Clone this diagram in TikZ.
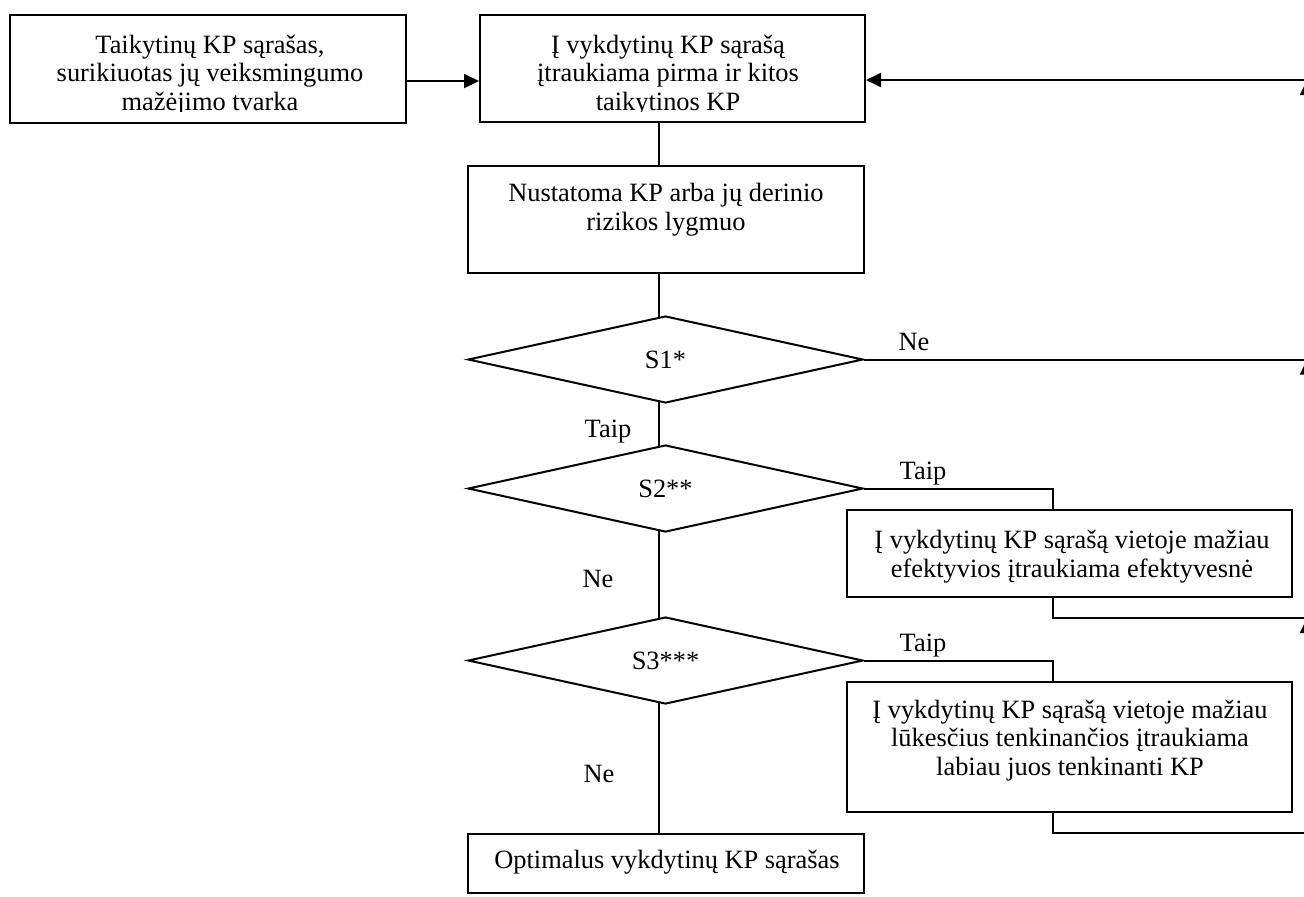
\documentclass[tikz,border=0pt]{standalone}
\usepackage{fontspec}
\setmainfont{Liberation Serif}
\usetikzlibrary{shapes.geometric,arrows.meta,calc}
\begin{document}
\begin{tikzpicture}[x=0.5pt,y=-0.5pt,
  every node/.style={font=\fontsize{13.2pt}{14.2pt}\selectfont},
  box/.style={draw, line width=1pt, rectangle, inner sep=0pt},
  dec/.style={draw, line width=1pt, diamond, inner sep=0pt, minimum width=197.5pt, minimum height=43.5pt},
  conn/.style={line width=1pt},
  arr/.style={line width=1pt, -{Triangle[length=7.5pt,width=7pt]}},
  lbl/.style={anchor=base, inner sep=0pt},
  txt/.style={anchor=base, inner sep=0pt, align=center}]
\useasboundingbox (0,0) rectangle (1304,896);

% boxes and decisions
\node[box, minimum width=198pt, minimum height=54pt] (L) at (208,69) {};
\node[box, minimum width=192.5pt, minimum height=53.5pt] (T) at (672.5,68.5) {};
\node[box, minimum width=198pt, minimum height=53.5pt] (N) at (666,219.5) {};
\node[dec] (S1) at (665.5,359.5) {S1*};
\node[dec] (S2) at (665.5,488.5) {S2**};
\node[dec] (S3) at (665.5,660.5) {S3***};
\node[box, minimum width=222.5pt, minimum height=43.5pt] (E) at (1069.5,553.5) {};
\node[box, minimum width=222.5pt, minimum height=65pt] (F) at (1069.5,747) {};
\node[box, minimum width=198pt, minimum height=29.5pt] (O) at (666,863.5) {};

% box texts (base anchor = baseline of the last line)
\begin{scope}
\clip (10,15) rectangle (406,111);
\node[txt] (Lt) at (210,110) {Taikytinų KP sąrašas,\\surikiuotas jų veiksmingumo\\mažėjimo tvarka};
\end{scope}
\begin{scope}
\clip (480,15) rectangle (865,111);
\node[txt] (Tt) at (668,110) {Į vykdytinų KP sąrašą\\įtraukiama pirma ir kitos\\taikytinos KP};
\end{scope}
\node[txt] (Nt) at (666,230) {Nustatoma KP arba jų derinio\\rizikos lygmuo};
\node[txt] (Et) at (1072,577) {Į vykdytinų KP sąrašą vietoje mažiau\\efektyvios įtraukiama efektyvesnė};
\node[txt] (Ft) at (1070,775) {Į vykdytinų KP sąrašą vietoje mažiau\\lūkesčius tenkinančios įtraukiama\\labiau juos tenkinanti KP};
\node[txt] (Ot) at (667,868) {Optimalus vykdytinų KP sąrašas};

% labels
\node[lbl] (ne1) at (914,350) {Ne};
\node[lbl] (taip1) at (608,437) {Taip};
\node[lbl] (taip2) at (923,479) {Taip};
\node[lbl] (ne2) at (598,587) {Ne};
\node[lbl] (taip3) at (923,651) {Taip};
\node[lbl] (ne3) at (599,782) {Ne};

% helper coordinates
\coordinate (tx) at (659,0);
\coordinate (rx) at (1307,0);
\coordinate (ex) at (1053,0);
\coordinate (r0) at (1307,80);
\coordinate (r2) at (1307,618);
\coordinate (r3) at (1307,833);

% connectors
\draw[arr] ([yshift=-6pt]L.east) -- ([yshift=-6pt]L.east -| T.west);
\draw[arr] (r0) -- (r0 -| T.east);
\draw[conn] (tx |- T.south) -- (tx |- N.north);
\draw[conn] (tx |- N.south) -- ([yshift=-1pt]tx |- S1.north);
\draw[conn] ([yshift=1pt]tx |- S1.south) -- ([yshift=-1pt]tx |- S2.north);
\draw[conn] ([yshift=1pt]tx |- S2.south) -- ([yshift=-1pt]tx |- S3.north);
\draw[conn] ([yshift=1pt]tx |- S3.south) -- (tx |- O.north);

\draw[conn] (S1.east) -- (S1.east -| rx);
\draw[arr] (S1.east -| rx) -- (r0);

\draw[conn] (S2.east) -- (S2.east -| ex) -- (ex |- E.north);
\draw[conn] (ex |- E.south) -- (ex |- r2) -- (r2);
\draw[arr] (r2) -- (S1.east -| rx);

\draw[conn] (S3.east) -- (S3.east -| ex) -- (ex |- F.north);
\draw[conn] (ex |- F.south) -- (ex |- r3) -- (r3);
\draw[arr] (r3) -- (r2);
\end{tikzpicture}
\end{document}
